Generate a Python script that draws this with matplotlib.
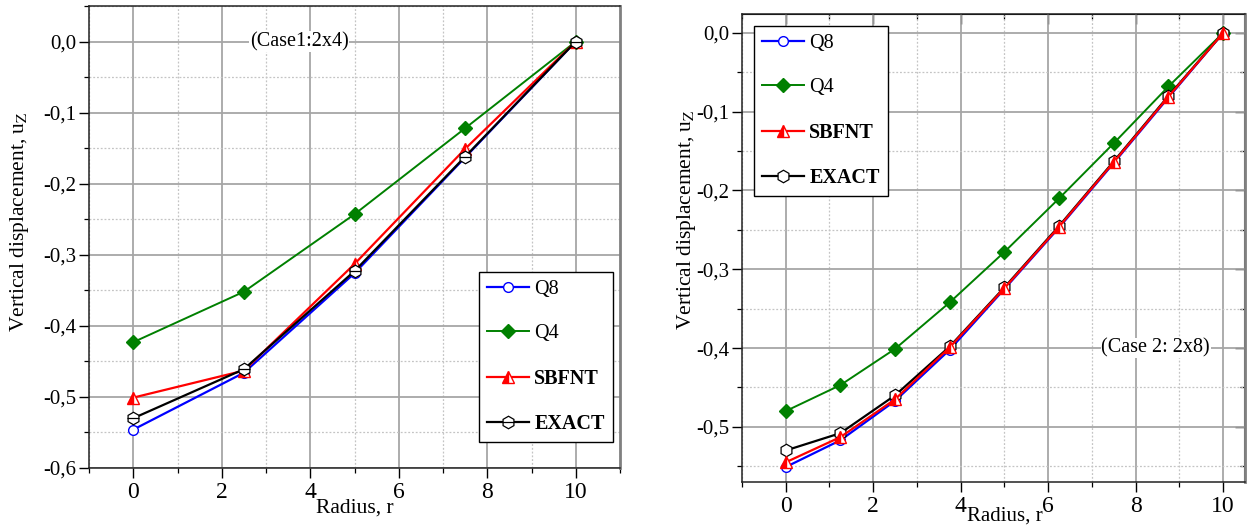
import matplotlib
matplotlib.use("Agg")
import matplotlib.pyplot as plt
from matplotlib.ticker import MultipleLocator, FuncFormatter, NullFormatter
from matplotlib.lines import Line2D

plt.rcParams['font.family'] = ['Liberation Serif', 'DejaVu Serif']
plt.rcParams['mathtext.fontset'] = 'stix'
plt.rcParams['axes.unicode_minus'] = False

# ---------------- data ----------------
series_names = ["Q8", "Q4", "SBFNT", "EXACT"]

r_case1 = [0, 2.5, 5, 7.5, 10]
q8_case1 = [-0.546, -0.466, -0.326, -0.163, 0.0]
q4_case1 = [-0.423, -0.352, -0.243, -0.122, 0.0]
sbfnt_case1 = [-0.501, -0.463, -0.313, -0.151, 0.0]
exact_case1 = [-0.530, -0.461, -0.323, -0.162, 0.0]

r_case2 = [0, 1.25, 2.5, 3.75, 5, 6.25, 7.5, 8.75, 10]
q8_case2 = [-0.551, -0.517, -0.467, -0.402, -0.325, -0.247, -0.165, -0.082, 0.0]
q4_case2 = [-0.480, -0.447, -0.401, -0.342, -0.278, -0.210, -0.140, -0.068, 0.0]
sbfnt_case2 = [-0.545, -0.513, -0.465, -0.399, -0.324, -0.246, -0.164, -0.081, 0.0]
exact_case2 = [-0.530, -0.508, -0.460, -0.398, -0.323, -0.245, -0.163, -0.080, 0.0]

xticks_case1 = [0, 2, 4, 6, 8, 10]
yticks_case1 = [-0.6, -0.5, -0.4, -0.3, -0.2, -0.1, 0.0]
xticks_case2 = [0, 2, 4, 6, 8, 10]
yticks_case2 = [-0.5, -0.4, -0.3, -0.2, -0.1, 0.0]

W, H = 1251, 528
fig = plt.figure(figsize=(W / 100, H / 100), dpi=100)


def ax_rect(x0, ytop, x1, ybot):
    return [x0 / W, 1 - ybot / H, (x1 - x0) / W, (ybot - ytop) / H]


ax1 = fig.add_axes(ax_rect(89, 6, 620, 468))
ax2 = fig.add_axes(ax_rect(742, 14, 1245, 482))

styles = {
    "Q8": dict(color="#0000ff", marker="o", markersize=7, markerfacecolor="white",
               markeredgecolor="#0000ff", markeredgewidth=1.0, lw=1.6),
    "Q4": dict(color="#008000", marker="D", markersize=7.5, markerfacecolor="#008000",
               markeredgecolor="#008000", lw=1.4),
    "SBFNT": dict(color="#ff0000", marker="^", markersize=9, markerfacecolor="#ff0000",
                  fillstyle="left", markerfacecoloralt="white",
                  markeredgecolor="#ff0000", markeredgewidth=1.0, lw=1.6),
    "EXACT": dict(color="black", marker="h", markersize=9, markerfacecolor="white",
                  markeredgecolor="black", markeredgewidth=0.9, lw=1.6),
}

fmt = FuncFormatter(lambda v, p: ("%.1f" % (round(v, 3) + 0.0)).replace(".", ","))


def style_axes(ax, xlim, ylim, xticks, yticks):
    ax.set_xlim(*xlim)
    ax.set_ylim(*ylim)
    ax.set_xticks(xticks)
    ax.set_yticks(yticks)
    ax.xaxis.set_minor_locator(MultipleLocator(1))
    ax.yaxis.set_minor_locator(MultipleLocator(0.05))
    ax.yaxis.set_major_formatter(fmt)
    ax.grid(True, which="major", color="#a6a6a6", lw=1.3, ls="-")
    ax.grid(True, which="minor", color="#c4c4c4", lw=0.9, ls=(0, (1.5, 1.5)))
    ax.set_axisbelow(True)
    ax.tick_params(which="major", direction="out", length=7, width=1.0)
    ax.tick_params(which="minor", direction="out", length=3.5, width=0.9)
    ax.tick_params(axis="x", labelsize=17, pad=3)
    ax.tick_params(axis="y", labelsize=15, pad=2)
    for s in ax.spines.values():
        s.set_color("#222222")
        s.set_linewidth(1.1)
    ax.spines["right"].set_color("#808080")
    ax.spines["right"].set_linewidth(2.0)


style_axes(ax1, (-1, 11), (-0.6, 0.05), xticks_case1, yticks_case1)
style_axes(ax2, (-1, 10.5), (-0.57, 0.024), xticks_case2, yticks_case2)

# inward mirrored ticks on the right/top of case 2
sec_y = ax2.secondary_yaxis("right")
sec_y.set_yticks(yticks_case2)
sec_y.yaxis.set_minor_locator(MultipleLocator(0.05))
sec_y.tick_params(which="major", direction="in", length=7, width=1.0, labelright=False)
sec_y.tick_params(which="minor", direction="in", length=3.5, width=0.9)
sec_y.yaxis.set_major_formatter(NullFormatter())
sec_y.spines["right"].set_color("#555555")
sec_y.spines["right"].set_linewidth(1.5)
sec_x = ax2.secondary_xaxis("top")
sec_x.set_xticks(xticks_case2)
sec_x.xaxis.set_minor_locator(MultipleLocator(1))
sec_x.tick_params(which="major", direction="in", length=7, width=1.0, labeltop=False)
sec_x.tick_params(which="minor", direction="in", length=3.5, width=0.9)
sec_x.xaxis.set_major_formatter(NullFormatter())

# ---------- Case 1 ----------
data1 = {"Q8": q8_case1, "Q4": q4_case1, "SBFNT": sbfnt_case1, "EXACT": exact_case1}
for name in ["Q8", "Q4", "SBFNT", "EXACT"]:
    ax1.plot(r_case1, data1[name], **styles[name], zorder=3)
ax1.plot(r_case1, exact_case1, ls="none", marker="_", markersize=9,
         markeredgecolor="black", markeredgewidth=0.9, zorder=4)

# ---------- Case 2 ----------
data2 = {"Q8": q8_case2, "Q4": q4_case2, "SBFNT": sbfnt_case2, "EXACT": exact_case2}
for name in ["Q8", "Q4", "EXACT", "SBFNT"]:
    ax2.plot(r_case2, data2[name], **styles[name], zorder=3)


# ---------- legends ----------
def handles(with_bar):
    hs = []
    for name in series_names:
        h = Line2D([], [], **styles[name])
        if name == "EXACT" and with_bar:
            bar = Line2D([], [], ls="none", marker="_", markersize=9,
                         markeredgecolor="black", markeredgewidth=0.9)
            h = (h, bar)
        hs.append(h)
    return hs


def make_legend(ax, hs, x0, ytop):
    leg = ax.legend(hs, series_names, loc="upper left",
                    bbox_to_anchor=(x0 / W, 1 - ytop / H), bbox_transform=fig.transFigure,
                    fancybox=False, edgecolor="black", framealpha=1, fontsize=14.5,
                    handlelength=2.1, handletextpad=0.25, borderpad=0.4,
                    labelspacing=1.25, borderaxespad=0)
    leg.get_frame().set_linewidth(1.0)
    for t in leg.get_texts():
        if t.get_text() in ("SBFNT", "EXACT"):
            t.set_fontweight("bold")
    return leg


make_legend(ax1, handles(True), 479, 272)
make_legend(ax2, handles(False), 754, 26)

# ---------- annotations ----------
ax1.text(3.75, 0.0, "(Case1:2x4)", ha="center", va="center", fontsize=14.5,
         bbox=dict(facecolor="white", edgecolor="none", pad=0.5), zorder=2.5)
ax2.text(8.46, -0.40, "(Case 2: 2x8)", ha="center", va="center", fontsize=14.5,
         bbox=dict(facecolor="white", edgecolor="none", pad=0.5), zorder=2.5)

# ---------- axis labels ----------
ylab = "Vertical displacement, u$_{\\mathrm{Z}}$"
for ax, (lx, ly), (xlx, xly), xfs in [
    (ax1, (20, 222), (355, 508), 15.5),
    (ax2, (687, 220), (1005, 516), 15),
]:
    ax.set_xlabel("Radius, r", fontsize=xfs, va="center", ha="center")
    ax.set_ylabel(ylab, fontsize=15.5, va="center", ha="center")
    ax.xaxis.set_label_coords(xlx / W, 1 - xly / H, transform=fig.transFigure)
    ax.yaxis.set_label_coords(lx / W, 1 - ly / H, transform=fig.transFigure)

fig.savefig("out.png", dpi=100, facecolor="white")
